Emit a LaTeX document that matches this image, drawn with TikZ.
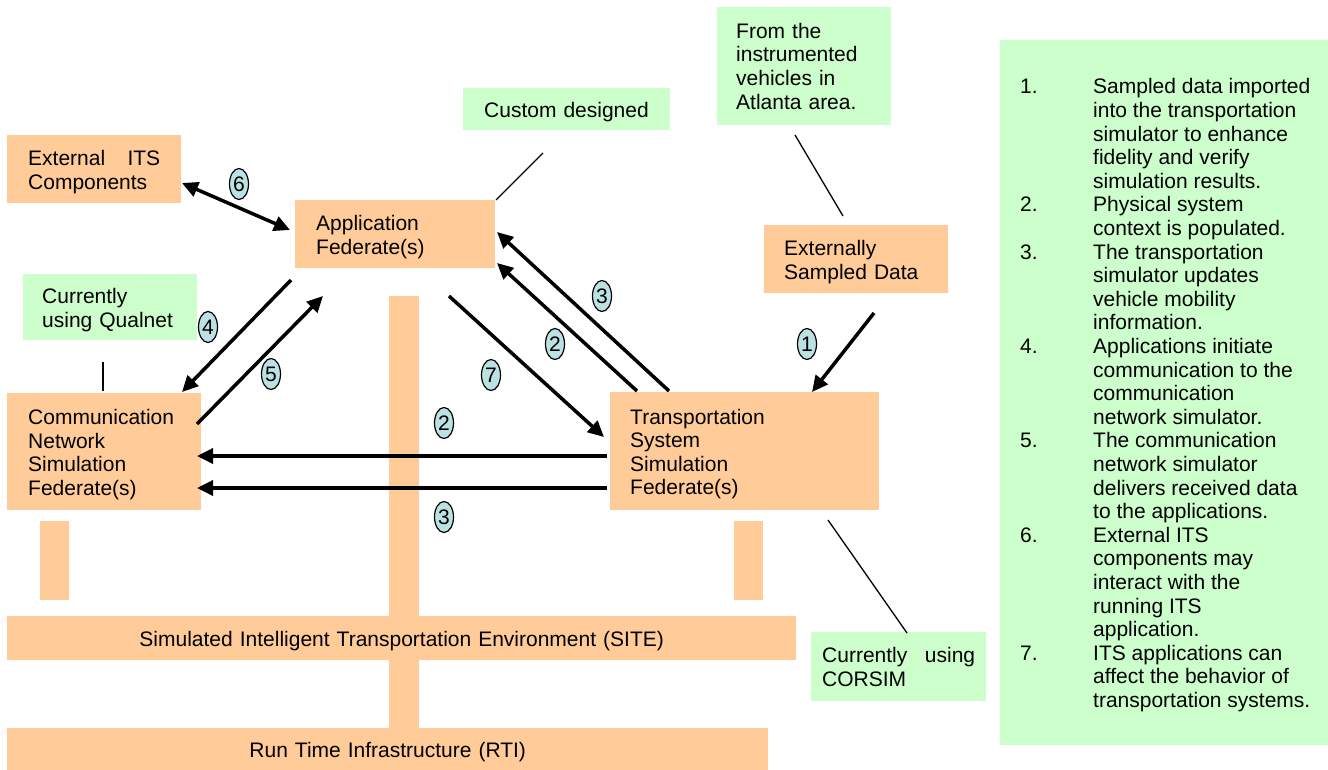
\documentclass[tikz,border=0pt]{standalone}
\usepackage{fontspec}
\setmainfont{Liberation Sans}
\usetikzlibrary{arrows.meta,shapes.geometric}
\setlength\parindent{0pt}
\definecolor{orangeF}{RGB}{255,204,153}
\definecolor{greenF}{RGB}{204,255,204}
\definecolor{tagF}{RGB}{187,225,227}
\begin{document}
\begin{tikzpicture}[x=1pt,y=-1pt,
  txtbase/.style={font=\fontsize{21}{23.6}\selectfont, inner ysep=0pt, anchor=north west, align=left},
  txt/.style={txtbase, execute at begin node={\rule{0pt}{21pt}}},
  obox/.style={txt, fill=orangeF},
  gbox/.style={txt, fill=greenF},
  gboxplain/.style={txtbase, fill=greenF},
  bar/.style={fill=orangeF},
  arr/.style={line width=3.5pt, -{Triangle[length=16pt,width=15pt]}},
  darr/.style={line width=3.5pt, {Triangle[length=16pt,width=15pt]}-{Triangle[length=16pt,width=15pt]}},
  tag/.style={ellipse, draw, line width=1.2pt, fill=tagF, inner sep=0pt, minimum width=19pt, minimum height=31pt, font=\fontsize{21}{24}\selectfont},
  callout/.style={line width=1.3pt}]
\useasboundingbox (0,0) rectangle (1328,769);
\fill[white] (0,0) rectangle (1328,769);

% bars
\fill[bar] (389,296) rectangle (419,730);
\fill[bar] (40,521) rectangle (69,600);
\fill[bar] (734,521) rectangle (763,600);

% boxes
\node[obox, text width=132pt, inner xsep=21pt, minimum height=68pt] (ext) at (7,135) {External\hfill ITS\\Components};
\node[gbox, text width=165pt, inner xsep=21pt, minimum height=42pt] (custom) at (463,88) {Custom designed};
\node[gboxplain, text width=136pt, inner xsep=19pt, minimum height=118pt] (inst) at (717,7) {From the\\instrumented\\vehicles in\\Atlanta area.};
\node[obox, text width=158pt, inner xsep=21pt, minimum height=68pt] (app) at (295,200) {Application\\Federate(s)};
\node[obox, text width=144pt, inner xsep=20pt, minimum height=68pt] (extdata) at (764,225) {Externally\\Sampled Data};
\node[gbox, text width=136pt, inner xsep=19pt, minimum height=66pt] (qual) at (23,274) {Currently\\using Qualnet};
\node[obox, text width=152pt, inner xsep=21pt, minimum height=117pt] (comm) at (7,393) {Communication\\Network\\Simulation\\Federate(s)};
\node[obox, text width=229pt, inner xsep=20pt, minimum height=118pt] (trans) at (610,392) {Transportation\\System\\Simulation\\Federate(s)};
\node[gboxplain, text width=153pt, inner xsep=11pt, minimum height=69pt] (corsim) at (811,632) {Currently\hfill using\\CORSIM};
\node[obox, align=center, text width=749pt, inner xsep=20pt, minimum height=44pt] (site) at (7,616) {Simulated Intelligent Transportation Environment (SITE)};
\node[obox, align=center, text width=721pt, inner xsep=20pt, minimum height=42pt] (rti) at (7,728) {Run Time Infrastructure (RTI)};

% legend
\node[fill=greenF, anchor=north west, inner sep=0pt, minimum width=328pt, minimum height=705pt] (legend) at (1000,40) {};
\node[anchor=west, inner sep=0pt, font=\fontsize{21}{23.6}\selectfont] (legtext) at (1020,396) {%
\begin{tabular}{@{}p{73pt}@{}l@{}}
1. & Sampled data imported\\
   & into the transportation\\
   & simulator to enhance\\
   & fidelity and verify\\
   & simulation results.\\
2. & Physical system\\
   & context is populated.\\
3. & The transportation\\
   & simulator updates\\
   & vehicle mobility\\
   & information.\\
4. & Applications initiate\\
   & communication to the\\
   & communication\\
   & network simulator.\\
5. & The communication\\
   & network simulator\\
   & delivers received data\\
   & to the applications.\\
6. & External ITS\\
   & components may\\
   & interact with the\\
   & running ITS\\
   & application.\\
7. & ITS applications can\\
   & affect the behavior of\\
   & transportation systems.
\end{tabular}};

% arrow end points
\coordinate (a6s) at (182,183); \coordinate (a6e) at (290,230);
\coordinate (a4s) at (291,280); \coordinate (a4e) at (182,392);
\coordinate (a5s) at (197,424); \coordinate (a5e) at (323,296);
\coordinate (a7s) at (449,296); \coordinate (a7e) at (604,437);
\coordinate (a2s) at (637,391); \coordinate (a2e) at (497,263);
\coordinate (a3s) at (669,391); \coordinate (a3e) at (497,232);
\coordinate (a1s) at (874,313); \coordinate (a1e) at (812,392);
\coordinate (h2s) at (607,456); \coordinate (h2e) at (197,456);
\coordinate (h3s) at (607,488); \coordinate (h3e) at (197,488);

\draw[darr] (a6s) -- (a6e);
\draw[arr] (a4s) -- (a4e);
\draw[arr] (a5s) -- (a5e);
\draw[arr] (a7s) -- (a7e);
\draw[arr] (a2s) -- (a2e);
\draw[arr] (a3s) -- (a3e);
\draw[arr] (a1s) -- (a1e);
\draw[arr] (h2s) -- (h2e);
\draw[arr] (h3s) -- (h3e);

% callout lines
\coordinate (c1s) at (543,153); \coordinate (c1e) at (496,200);
\coordinate (c2s) at (795,135); \coordinate (c2e) at (843,216);
\coordinate (c3s) at (103,362); \coordinate (c3e) at (103,391);
\coordinate (c4s) at (828,520); \coordinate (c4e) at (907,633);
\draw[callout] (c1s) -- (c1e);
\draw[callout] (c2s) -- (c2e);
\draw[callout] (c3s) -- (c3e);
\draw[callout] (c4s) -- (c4e);

% tags
\node[tag] (t6) at (239,184) {6};
\node[tag] (t4) at (208,327) {4};
\node[tag] (t5) at (271,374) {5};
\node[tag] (t7) at (491,375) {7};
\node[tag] (t2a) at (555,344) {2};
\node[tag] (t3a) at (602,296) {3};
\node[tag] (t1) at (807,344) {1};
\node[tag] (t2b) at (444,423) {2};
\node[tag] (t3b) at (444,517) {3};
\end{tikzpicture}
\end{document}
